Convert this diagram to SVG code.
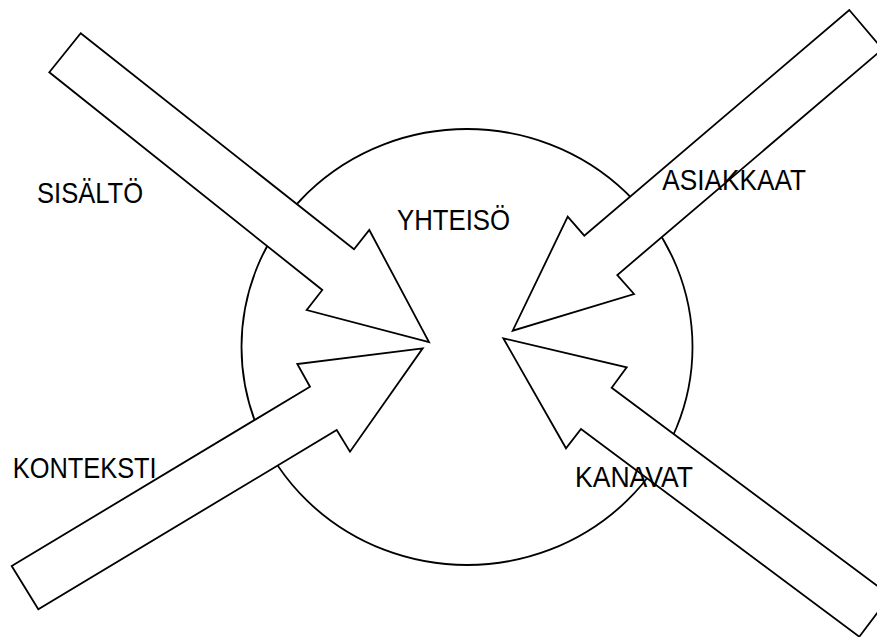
<svg xmlns="http://www.w3.org/2000/svg" width="877" height="637" viewBox="0 0 877 637">
<style>
.shape{fill:#fff;stroke:#000;stroke-width:1.8;stroke-linejoin:miter}
.lbl{font-family:"Liberation Sans",Arial,sans-serif;font-size:30px;fill:#000}
</style>
<rect width="877" height="637" fill="#fff"/>
<g id="yhteiso">
<ellipse class="shape" cx="467" cy="347" rx="225.5" ry="218"/>
</g>
<g id="connectors">
<polygon id="arrow-sisalto" class="shape" points="80.7,33.3 354,249.3 369.3,230 429,342 306.7,310 322.3,290 49.3,72.3"/>
<polygon id="arrow-asiakkaat" class="shape" points="849.3,10 882.6,49.1 617.3,275 634,294 512.7,330.7 567.7,216.7 584.3,235.7"/>
<polygon id="arrow-konteksti" class="shape" points="11.7,566 310,386.7 297.3,364 422.7,348.3 350,451.7 336.7,430 38.3,609.3"/>
<polygon id="arrow-kanavat" class="shape" points="503.3,338.3 626.7,367.3 611.7,387.7 890.2,595.6 859.3,636.7 581,429 566,448.3"/>
</g>
<g id="labels">
<text id="t-yhteiso" class="lbl" x="397" y="230" textLength="113" lengthAdjust="spacingAndGlyphs">YHTEISÖ</text>
<text id="t-sisalto" class="lbl" x="37" y="203.3" textLength="106" lengthAdjust="spacingAndGlyphs">SISÄLTÖ</text>
<text id="t-asiakkaat" class="lbl" x="662.3" y="190" textLength="143.7" lengthAdjust="spacingAndGlyphs">ASIAKKAAT</text>
<text id="t-konteksti" class="lbl" x="12.7" y="477.7" textLength="144" lengthAdjust="spacingAndGlyphs">KONTEKSTI</text>
<text id="t-kanavat" class="lbl" x="575" y="487.3" textLength="118" lengthAdjust="spacingAndGlyphs">KANAVAT</text>
</g>
</svg>
